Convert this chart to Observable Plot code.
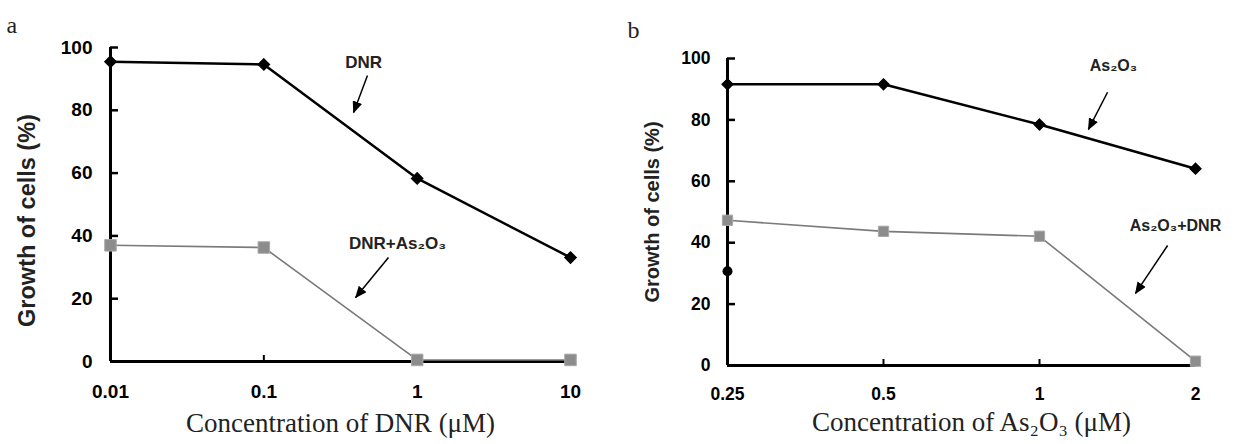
<!DOCTYPE html>
<html><head><meta charset="utf-8">
<script src="https://cdn.jsdelivr.net/npm/d3@7"></script>
<script src="https://cdn.jsdelivr.net/npm/@observablehq/plot@0.6"></script>
<style>
html,body{margin:0;padding:0;background:#fff;}
#wrap{display:flex;width:1247px;height:444px;overflow:hidden;}
</style></head>
<body><div id="wrap"></div>
<script>
// ---- Data ----
const yTicks = [0, 20, 40, 60, 80, 100];
// Panel a
const dnrConc = [0.01, 0.1, 1, 10];
const dnrGrowth = [95.5, 94.6, 58.3, 33.1];
const dnrAsGrowth = [37.0, 36.3, 0.5, 0.5];
const aTickLabels = ["0.01", "0.1", "1", "10"];
// Panel b
const asConc = [0.25, 0.5, 1, 2];
const asGrowth = [91.6, 91.6, 78.5, 64.1];
const asDnrGrowth = [47.3, 43.7, 42.1, 1.4];
const asExtraConc = [0.25];
const asExtraGrowth = [30.7];
const bTickLabels = ["0.25", "0.5", "1", "2"];
// Annotations (data units)
const aNotes = [{t: "DNR", x: 0.447, y: 95.2}, {t: "DNR+As₂O₃", x: 0.745, y: 37.6}];
const aArrows = [{x1: 0.474, y1: 91.1, x2: 0.385, y2: 79.3}, {x1: 0.65, y1: 33.1, x2: 0.397, y2: 20.4}];
const bNotes = [{t: "As₂O₃", x: 1.389, y: 97.5}, {t: "As₂O₃+DNR", x: 1.83, y: 45.6}];
const bArrows = [{x1: 1.353, y1: 89.0, x2: 1.243, y2: 76.9}, {x1: 1.767, y1: 39.1, x2: 1.532, y2: 23.5}];

const sans = "'Liberation Sans', Arial, sans-serif";
const serif = "'Liberation Serif', 'Times New Roman', serif";

function zip(xs, ys) { return xs.map((x, i) => ({x, y: ys[i]})); }

function addArrowHeads(svg, id) {
  const ns = "http://www.w3.org/2000/svg";
  const defs = document.createElementNS(ns, "defs");
  const m = document.createElementNS(ns, "marker");
  m.setAttribute("id", id);
  m.setAttribute("viewBox", "0 -5 12 10");
  m.setAttribute("refX", "11");
  m.setAttribute("refY", "0");
  m.setAttribute("markerWidth", "12");
  m.setAttribute("markerHeight", "10");
  m.setAttribute("markerUnits", "userSpaceOnUse");
  m.setAttribute("orient", "auto");
  const p = document.createElementNS(ns, "path");
  p.setAttribute("d", "M0,-5L12,0L0,5Z");
  p.setAttribute("fill", "black");
  m.appendChild(p); defs.appendChild(m); svg.insertBefore(defs, svg.firstChild);
  svg.querySelectorAll('g[aria-label="link"] path').forEach(e => e.setAttribute("marker-end", `url(#${id})`));
}

// ---- Panel a ----
const plotA = Plot.plot({
  width: 610, height: 444,
  marginLeft: 110, marginRight: 40, marginTop: 47, marginBottom: 83,
  x: {type: "log", domain: [0.01, 10]},
  y: {domain: [0, 100]},
  style: {fontFamily: sans, background: "white", color: "black", overflow: "visible"},
  marks: [
    Plot.axisY({ticks: yTicks, tickSize: -8, tickPadding: 26, fontSize: 19, fontWeight: "bold", letterSpacing: 1.5, strokeWidth: 2.5, label: null}),
    Plot.axisX({ticks: dnrConc, tickSize: -6, tickPadding: 29, fontSize: 19, fontWeight: "bold", letterSpacing: 1.5, strokeWidth: 2, label: null,
      tickFormat: (d) => aTickLabels[dnrConc.indexOf(d)]}),
    Plot.ruleX([0.01], {y1: 0, y2: 100, strokeWidth: 3}),
    Plot.ruleY([0], {x1: 0.01, x2: 10, strokeWidth: 3}),
    Plot.line(zip(dnrConc, dnrAsGrowth), {x: "x", y: "y", stroke: "#7a7a7a", strokeWidth: 1.6}),
    Plot.dot(zip(dnrConc, dnrAsGrowth), {x: "x", y: "y", symbol: "square", r: 6.5, fill: "#8c8c8c", stroke: "#a8a8a8", strokeWidth: 1}),
    Plot.line(zip(dnrConc, dnrGrowth), {x: "x", y: "y", stroke: "black", strokeWidth: 2.5}),
    Plot.dot(zip(dnrConc, dnrGrowth), {x: "x", y: "y", symbol: "diamond2", r: 5, fill: "black", stroke: "black"}),
    Plot.text(aNotes, {x: "x", y: "y", text: "t", fontSize: 17, fontWeight: "bold", letterSpacing: 1, fill: "#222"}),
    Plot.link(aArrows, {x1: "x1", y1: "y1", x2: "x2", y2: "y2", stroke: "black", strokeWidth: 1.5}),
    Plot.text(["Growth of cells (%)"], {frameAnchor: "left", textAnchor: "middle", rotate: -90, dx: -83, dy: 16, fontSize: 23.5, fontWeight: "bold", fill: "#222"}),
    Plot.text(["Concentration of DNR (μM)"], {frameAnchor: "bottom", dy: 70, fontSize: 27, letterSpacing: 1.2, fontFamily: serif, fill: "#222"}),
    Plot.text(["a"], {frameAnchor: "top-left", textAnchor: "start", dx: -104, dy: -32, fontSize: 24, fontFamily: serif, fill: "#222"})
  ]
});
addArrowHeads(plotA, "ahA");

// ---- Panel b ----
const plotB = Plot.plot({
  width: 637, height: 444,
  marginLeft: 117, marginRight: 52, marginTop: 58, marginBottom: 79,
  x: {type: "log", base: 2, domain: [0.25, 2]},
  y: {domain: [0, 100]},
  style: {fontFamily: sans, background: "white", color: "black", overflow: "visible"},
  marks: [
    Plot.axisY({ticks: yTicks, tickSize: -8, tickPadding: 25, fontSize: 17.5, fontWeight: "bold", letterSpacing: 1.5, strokeWidth: 2.5, label: null}),
    Plot.axisX({ticks: asConc, tickSize: -6, tickPadding: 28, fontSize: 17.5, fontWeight: "bold", letterSpacing: 1.5, strokeWidth: 2, label: null,
      tickFormat: (d) => bTickLabels[asConc.indexOf(d)]}),
    Plot.ruleX([0.25], {y1: 0, y2: 100, strokeWidth: 3}),
    Plot.ruleY([0], {x1: 0.25, x2: 2, strokeWidth: 3}),
    Plot.line(zip(asConc, asDnrGrowth), {x: "x", y: "y", stroke: "#7a7a7a", strokeWidth: 1.6}),
    Plot.dot(zip(asConc, asDnrGrowth), {x: "x", y: "y", symbol: "square", r: 5.8, fill: "#8c8c8c", stroke: "#a8a8a8", strokeWidth: 1}),
    Plot.line(zip(asConc, asGrowth), {x: "x", y: "y", stroke: "black", strokeWidth: 2.5}),
    Plot.dot(zip(asConc, asGrowth), {x: "x", y: "y", symbol: "diamond2", r: 4.8, fill: "black", stroke: "black"}),
    Plot.dot(zip(asExtraConc, asExtraGrowth), {x: "x", y: "y", r: 5, fill: "black"}),
    Plot.text(bNotes, {x: "x", y: "y", text: "t", fontSize: 16, fontWeight: "bold", letterSpacing: 1, fill: "#222"}),
    Plot.link(bArrows, {x1: "x1", y1: "y1", x2: "x2", y2: "y2", stroke: "black", strokeWidth: 1.5}),
    Plot.text(["Growth of cells (%)"], {frameAnchor: "left", textAnchor: "middle", rotate: -90, dx: -75, dy: 0, fontSize: 20, fontWeight: "bold", fill: "#222"}),
    Plot.text(["Concentration of As₂O₃ (μM)"], {frameAnchor: "bottom", dx: 10, dy: 65, fontSize: 27, letterSpacing: 1, fontFamily: serif, fill: "#222"}),
    Plot.text(["b"], {frameAnchor: "top-left", textAnchor: "start", dx: -100, dy: -38, fontSize: 24, fontFamily: serif, fill: "#222"})
  ]
});
addArrowHeads(plotB, "ahB");

document.getElementById("wrap").append(plotA, plotB);
</script>
</body></html>
